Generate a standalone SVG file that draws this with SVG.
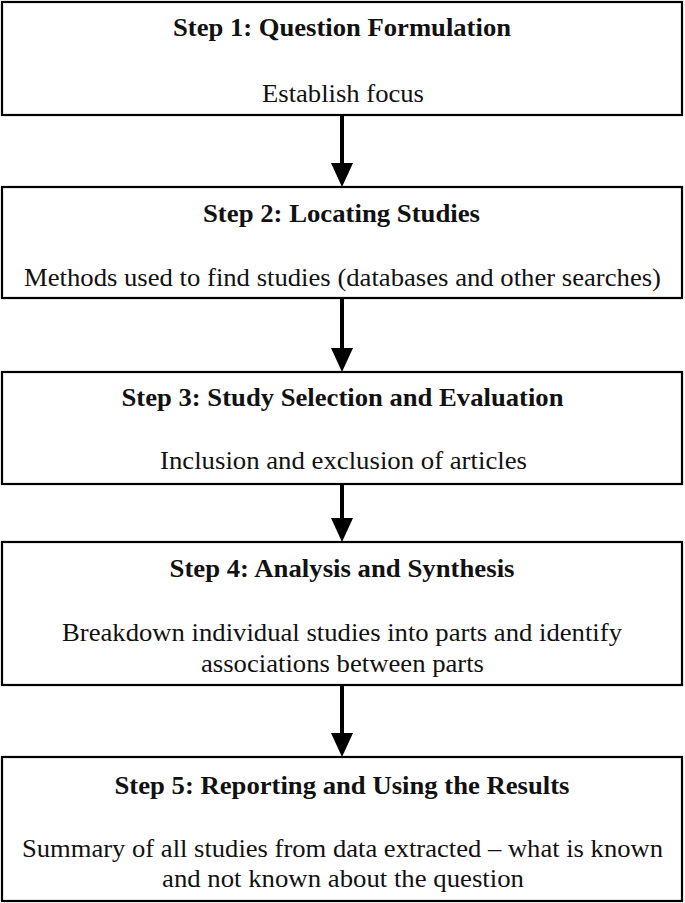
<svg xmlns="http://www.w3.org/2000/svg" width="685" height="903" viewBox="0 0 685 903">
<style>
.box{fill:#fff;stroke:#000;stroke-width:2.2}
.t{font-family:"Liberation Serif","Times New Roman",Times,serif;font-size:25px;fill:#111;text-anchor:middle}
.b{font-weight:bold}
.c{stroke:#000;stroke-width:4;fill:none}
</style>
<defs>
<marker id="ah" markerUnits="userSpaceOnUse" markerWidth="24" markerHeight="22" refX="0" refY="11" orient="auto">
<path d="M0,0 L24,11 L0,22 z" fill="#000"/>
</marker>
</defs>
<rect width="685" height="903" fill="#fff"/>
<g id="connectors">
<line class="c" x1="342" y1="115" x2="342" y2="163" marker-end="url(#ah)"/>
<line class="c" x1="342" y1="298" x2="342" y2="348" marker-end="url(#ah)"/>
<line class="c" x1="342" y1="484" x2="342" y2="518" marker-end="url(#ah)"/>
<line class="c" x1="342" y1="685" x2="342" y2="733" marker-end="url(#ah)"/>
</g>
<g id="step1">
<rect class="box" x="2" y="2" width="680" height="113"/>
<text class="t b" x="342" y="36" textLength="338" lengthAdjust="spacingAndGlyphs">Step 1: Question Formulation</text>
<text class="t" x="343" y="102" textLength="162" lengthAdjust="spacingAndGlyphs">Establish focus</text>
</g>
<g id="step2">
<rect class="box" x="2" y="187" width="680" height="111"/>
<text class="t b" x="341.5" y="222" textLength="277" lengthAdjust="spacingAndGlyphs">Step 2: Locating Studies</text>
<text class="t" x="342.5" y="286" textLength="637" lengthAdjust="spacingAndGlyphs">Methods used to find studies (databases and other searches)</text>
</g>
<g id="step3">
<rect class="box" x="2" y="372" width="680" height="112"/>
<text class="t b" x="342.5" y="406" textLength="442" lengthAdjust="spacingAndGlyphs">Step 3: Study Selection and Evaluation</text>
<text class="t" x="343.5" y="469" textLength="367" lengthAdjust="spacingAndGlyphs">Inclusion and exclusion of articles</text>
</g>
<g id="step4">
<rect class="box" x="2" y="542" width="680" height="143"/>
<text class="t b" x="342" y="577" textLength="345" lengthAdjust="spacingAndGlyphs">Step 4: Analysis and Synthesis</text>
<text class="t" x="342" y="641" textLength="560" lengthAdjust="spacingAndGlyphs">Breakdown individual studies into parts and identify</text>
<text class="t" x="342.5" y="672" textLength="283" lengthAdjust="spacingAndGlyphs">associations between parts</text>
</g>
<g id="step5">
<rect class="box" x="2" y="757" width="680" height="144"/>
<text class="t b" x="342" y="794" textLength="455" lengthAdjust="spacingAndGlyphs">Step 5: Reporting and Using the Results</text>
<text class="t" x="342.5" y="857" textLength="641" lengthAdjust="spacingAndGlyphs">Summary of all studies from data extracted – what is known</text>
<text class="t" x="343" y="887" textLength="362" lengthAdjust="spacingAndGlyphs">and not known about the question</text>
</g>
</svg>
